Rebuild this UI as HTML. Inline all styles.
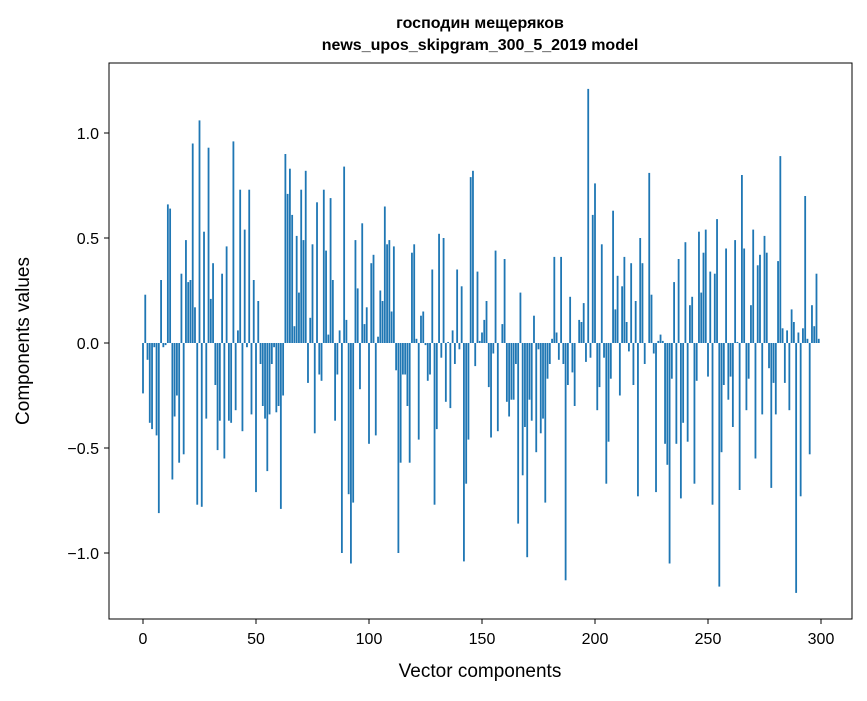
<!DOCTYPE html>
<html><head><meta charset="utf-8"><style>
html,body{margin:0;padding:0;background:#fff;}
svg text{font-family:"Liberation Sans","DejaVu Sans",sans-serif;fill:#000;}
</style></head><body>
<svg id="chart" width="867" height="696" xmlns="http://www.w3.org/2000/svg">
<rect width="867" height="696" fill="#fff"/>
<text x="480" y="28" text-anchor="middle" font-size="16" font-weight="bold">господин мещеряков</text>
<text x="480" y="50" text-anchor="middle" font-size="16" font-weight="bold">news_upos_skipgram_300_5_2019 model</text>
<g id="bars"></g>
<g id="axes"></g>
<rect x="109" y="63" width="743" height="556" fill="none" stroke="#000" stroke-width="1"/>
<text x="480" y="677" text-anchor="middle" font-size="19">Vector components</text>
<text transform="translate(29,341) rotate(-90)" text-anchor="middle" font-size="19">Components values</text>
</svg>
<script>
const values = [-0.24,0.23,-0.08,-0.38,-0.41,-0.02,-0.44,-0.81,0.30,-0.02,-0.01,0.66,0.64,-0.65,-0.35,-0.25,-0.57,0.33,-0.53,0.49,0.29,0.30,0.95,0.17,-0.77,1.06,-0.78,0.53,-0.36,0.93,0.21,0.38,-0.20,-0.51,-0.37,0.33,-0.55,0.46,-0.37,-0.38,0.96,-0.32,0.06,0.73,-0.42,0.54,-0.02,0.73,-0.34,0.30,-0.71,0.20,
-0.10,-0.30,-0.36,-0.61,-0.34,-0.10,-0.02,-0.33,-0.30,-0.79,-0.25,0.90,0.71,0.83,0.61,0.08,0.51,0.24,0.73,0.49,0.82,-0.19,0.12,0.47,-0.43,0.67,-0.15,-0.18,0.73,0.44,0.04,0.69,0.30,-0.37,-0.15,0.06,-1.00,0.84,0.11,-0.72,-1.05,-0.76,0.49,0.26,-0.22,0.57,0.09,0.17,-0.48,0.38,
0.42,-0.44,0.03,0.25,0.20,0.65,0.47,0.49,0.15,0.46,-0.13,-1.00,-0.57,-0.15,-0.15,-0.30,-0.57,0.43,0.47,0.02,-0.46,0.13,0.15,-0.01,-0.18,-0.15,0.35,-0.77,-0.41,0.52,-0.07,0.50,-0.28,0.005,-0.31,0.06,-0.10,0.35,-0.03,0.27,-1.04,-0.67,-0.46,0.79,0.82,-0.11,0.34,0.01,0.05,0.11,
0.20,-0.21,-0.45,-0.05,0.44,-0.42,0.0,0.09,0.40,-0.28,-0.35,-0.27,-0.27,-0.10,-0.86,0.24,-0.63,-0.40,-1.02,-0.27,-0.37,0.13,-0.52,-0.03,-0.43,-0.36,-0.76,-0.17,-0.10,0.02,0.41,0.05,-0.08,0.41,-0.10,-1.13,-0.20,0.22,-0.14,-0.30,0.0,0.11,0.10,0.19,-0.09,1.21,-0.07,0.61,0.76,-0.32,
-0.21,0.47,-0.07,-0.67,-0.47,-0.17,0.63,0.16,0.32,-0.25,0.27,0.41,0.10,-0.04,0.38,-0.20,0.20,-0.73,0.50,0.38,-0.10,0.0,0.81,0.23,-0.05,-0.71,0.01,0.04,0.01,-0.48,-0.58,-1.05,-0.17,0.29,-0.48,0.40,-0.74,-0.38,0.48,-0.47,0.18,0.22,-0.67,-0.18,0.53,0.24,0.43,0.54,-0.16,0.34,
-0.77,0.33,0.59,-1.16,-0.52,-0.20,0.45,-0.27,-0.16,-0.40,0.49,0.005,-0.70,0.80,0.45,-0.32,-0.17,0.18,0.54,-0.55,0.37,0.42,-0.34,0.51,0.43,-0.12,-0.69,-0.19,-0.34,0.39,0.89,0.07,-0.19,0.06,-0.32,0.16,0.10,-1.19,0.05,-0.73,0.07,0.70,0.02,-0.53,0.18,0.08,0.33,0.02];
const xTicks = [0,50,100,150,200,250,300];
const yTicks = [-1.0,-0.5,0.0,0.5,1.0];
const yTickLabels = ["\u22121.0","\u22120.5","0.0","0.5","1.0"];

const NS="http://www.w3.org/2000/svg";
function xs(v){return 143+v*2.26;}
function ys(v){return 343-v*210;}
const bars=document.getElementById('bars');
values.forEach((v,i)=>{
  const r=document.createElementNS(NS,'rect');
  
  
  const y0=ys(0),y1=ys(v);
  r.setAttribute('x',xs(i-0.4));
  r.setAttribute('width',2.26*0.8);
  r.setAttribute('y',Math.min(y0,y1));
  r.setAttribute('height',Math.abs(y1-y0));
  r.setAttribute('fill','#1f77b4');
  bars.appendChild(r);
});
const axes=document.getElementById('axes');
xTicks.forEach(t=>{
  const l=document.createElementNS(NS,'line');
  
  
  l.setAttribute('x1',xs(t));l.setAttribute('x2',xs(t));
  l.setAttribute('y1',619);l.setAttribute('y2',624);
  l.setAttribute('stroke','#000');
  axes.appendChild(l);
  const tx=document.createElementNS(NS,'text');
  
  
  tx.setAttribute('x',xs(t));tx.setAttribute('y',644);
  tx.setAttribute('text-anchor','middle');tx.setAttribute('font-size','16');
  tx.textContent=String(t);
  axes.appendChild(tx);
});
yTicks.forEach((t,k)=>{
  const l=document.createElementNS(NS,'line');
  
  
  l.setAttribute('x1',104);l.setAttribute('x2',109);
  l.setAttribute('y1',ys(t));l.setAttribute('y2',ys(t));
  l.setAttribute('stroke','#000');
  axes.appendChild(l);
  const tx=document.createElementNS(NS,'text');
  
  
  tx.setAttribute('x',99);tx.setAttribute('y',ys(t)+6);
  tx.setAttribute('text-anchor','end');tx.setAttribute('font-size','16');
  tx.textContent=yTickLabels[k];
  axes.appendChild(tx);
});
</script>
</body></html>
